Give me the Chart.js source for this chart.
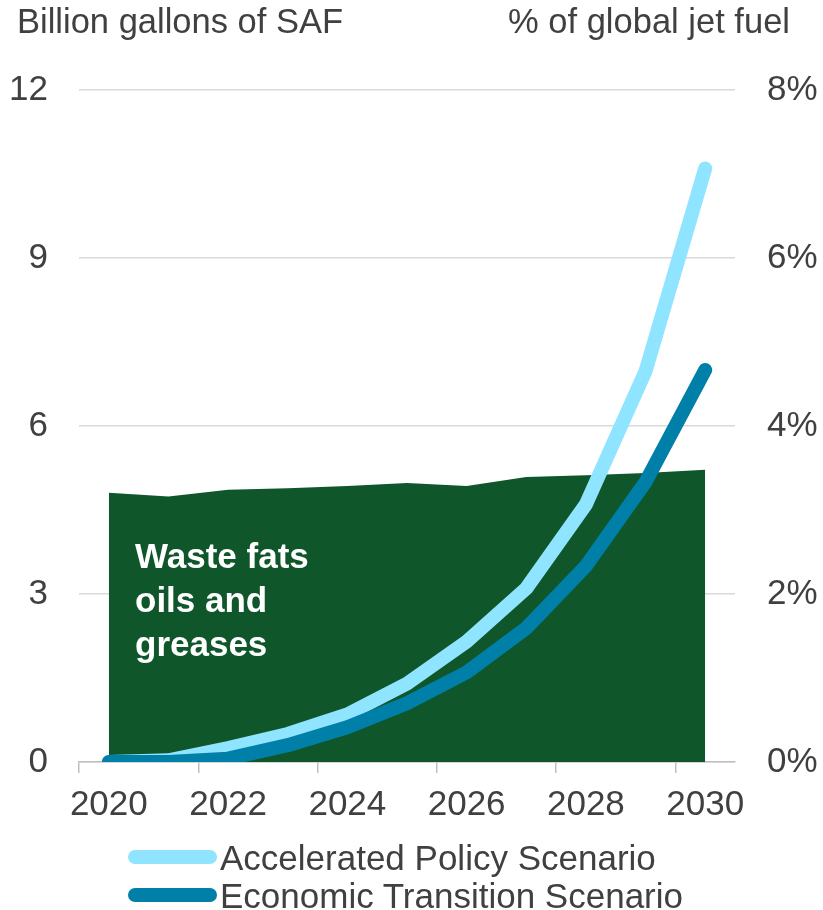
<!DOCTYPE html>
<html>
<head>
<meta charset="utf-8">
<script src="https://cdn.jsdelivr.net/npm/chart.js@4.4.1/dist/chart.umd.min.js"></script>
<style>
  body { margin: 0; background: #fff; }
  #wrap { position: relative; width: 823px; height: 910px; font-family: "Liberation Sans", Arial, sans-serif; color: #404040; }
  canvas { position: absolute; left: 0; top: 0; }
  .axis-title { position: absolute; top: 4px; font-size: 34.5px; line-height: 34px; white-space: nowrap; }
  #legend { position: absolute; left: 128px; top: 838px; }
  .item { display: flex; align-items: center; height: 38px; font-size: 35px; line-height: 35px; white-space: nowrap; }
  .swatch { width: 89px; height: 14px; border-radius: 7px; margin-right: 3px; }
</style>
</head>
<body>
<div id="wrap">
  <canvas id="chart" width="823" height="910"></canvas>
  <div class="axis-title" style="left:17px">Billion gallons of SAF</div>
  <div class="axis-title" style="right:33px">% of global jet fuel</div>
  <div id="legend"></div>
</div>
<script>
const years = ['2020', '2021', '2022', '2023', '2024', '2025', '2026', '2027', '2028', '2029', '2030'];
const wasteFats = [4.81, 4.74, 4.86, 4.89, 4.93, 4.98, 4.93, 5.09, 5.12, 5.16, 5.22];
const accelerated = [0, 0.03, 0.25, 0.5, 0.85, 1.4, 2.15, 3.1, 4.6, 6.98, 10.6];
const economic = [0, 0, 0.06, 0.3, 0.62, 1.05, 1.6, 2.39, 3.5, 5.0, 7.0];
const leftTicks = [0, 3, 6, 9, 12];
const rightTicks = [0, 2, 4, 6, 8];

const green = '#0f572a';
const lightBlue = '#8fe4ff';
const darkBlue = '#007fa8';
const textColor = '#404040';

// white bold label inside the green area
const areaLabel = {
  id: 'areaLabel',
  afterDatasetsDraw(chart) {
    const { ctx, chartArea } = chart;
    ctx.save();
    ctx.fillStyle = '#fff';
    ctx.font = 'bold 35px "Liberation Sans", Arial, sans-serif';
    ctx.textBaseline = 'alphabetic';
    const x = chartArea.left + 56;
    ['Waste fats', 'oils and', 'greases'].forEach((t, i) => {
      ctx.fillText(t, x, 568 + i * 44);
    });
    ctx.restore();
  }
};

const ctx = document.getElementById('chart').getContext('2d');
new Chart(ctx, {
  type: 'line',
  data: {
    labels: years,
    datasets: [
      {
        label: 'Economic Transition Scenario',
        data: economic,
        borderColor: darkBlue,
        borderWidth: 14,
        borderCapStyle: 'round',
        borderJoinStyle: 'round',
        pointRadius: 0,
        fill: false,
        yAxisID: 'y',
        order: 0
      },
      {
        label: 'Accelerated Policy Scenario',
        data: accelerated,
        borderColor: lightBlue,
        borderWidth: 14,
        borderCapStyle: 'round',
        borderJoinStyle: 'round',
        pointRadius: 0,
        fill: false,
        yAxisID: 'y',
        order: 1
      },
      {
        label: 'Waste fats oils and greases',
        data: wasteFats,
        borderWidth: 0,
        borderColor: green,
        backgroundColor: green,
        pointRadius: 0,
        fill: 'origin',
        yAxisID: 'y',
        order: 2
      }
    ]
  },
  options: {
    responsive: false,
    animation: false,
    layout: { padding: { top: 90, bottom: 0, left: 0, right: 0 } },
    plugins: {
      legend: { display: false },
      tooltip: { enabled: false }
    },
    scales: {
      x: {
        offset: true,
        grid: {
          offset: true,
          drawOnChartArea: false,
          drawTicks: true,
          tickLength: 11,
          lineWidth: 1.5,
          color: c => (c.index !== undefined && c.index % 2 === 0) ? '#bfbfbf' : 'rgba(0,0,0,0)'
        },
        border: { display: true, color: '#bfbfbf', width: 1.5 },
        ticks: {
          autoSkip: false,
          maxRotation: 0,
          padding: 11,
          color: textColor,
          font: { size: 35, family: '"Liberation Sans", Arial, sans-serif' },
          callback: (v, i) => i % 2 === 0 ? years[i] : ''
        },
        afterFit: s => { s.height = 910 - 762; }
      },
      y: {
        position: 'left',
        min: 0,
        max: 12,
        afterBuildTicks: s => { s.ticks = leftTicks.map(v => ({ value: v })); },
        grid: { color: '#d9d9d9', lineWidth: 1.5, drawTicks: false },
        border: { display: false },
        ticks: {
          padding: 31,
          color: textColor,
          font: { size: 35, family: '"Liberation Sans", Arial, sans-serif' }
        },
        afterFit: s => { s.width = 79; }
      },
      y1: {
        position: 'right',
        min: 0,
        max: 8,
        afterBuildTicks: s => { s.ticks = rightTicks.map(v => ({ value: v })); },
        grid: { display: false, drawTicks: false },
        border: { display: false },
        ticks: {
          padding: 32,
          color: textColor,
          font: { size: 35, family: '"Liberation Sans", Arial, sans-serif' },
          callback: v => v + '%'
        },
        afterFit: s => { s.width = 823 - 735; }
      }
    }
  },
  plugins: [areaLabel]
});

// legend below the chart, light line first
const legendItems = [
  { name: 'Accelerated Policy Scenario', color: lightBlue },
  { name: 'Economic Transition Scenario', color: darkBlue }
];
const legend = document.getElementById('legend');
legendItems.forEach(it => {
  const row = document.createElement('div');
  row.className = 'item';
  const sw = document.createElement('span');
  sw.className = 'swatch';
  sw.style.background = it.color;
  const txt = document.createElement('span');
  txt.textContent = it.name;
  row.appendChild(sw);
  row.appendChild(txt);
  legend.appendChild(row);
});
</script>
</body>
</html>
